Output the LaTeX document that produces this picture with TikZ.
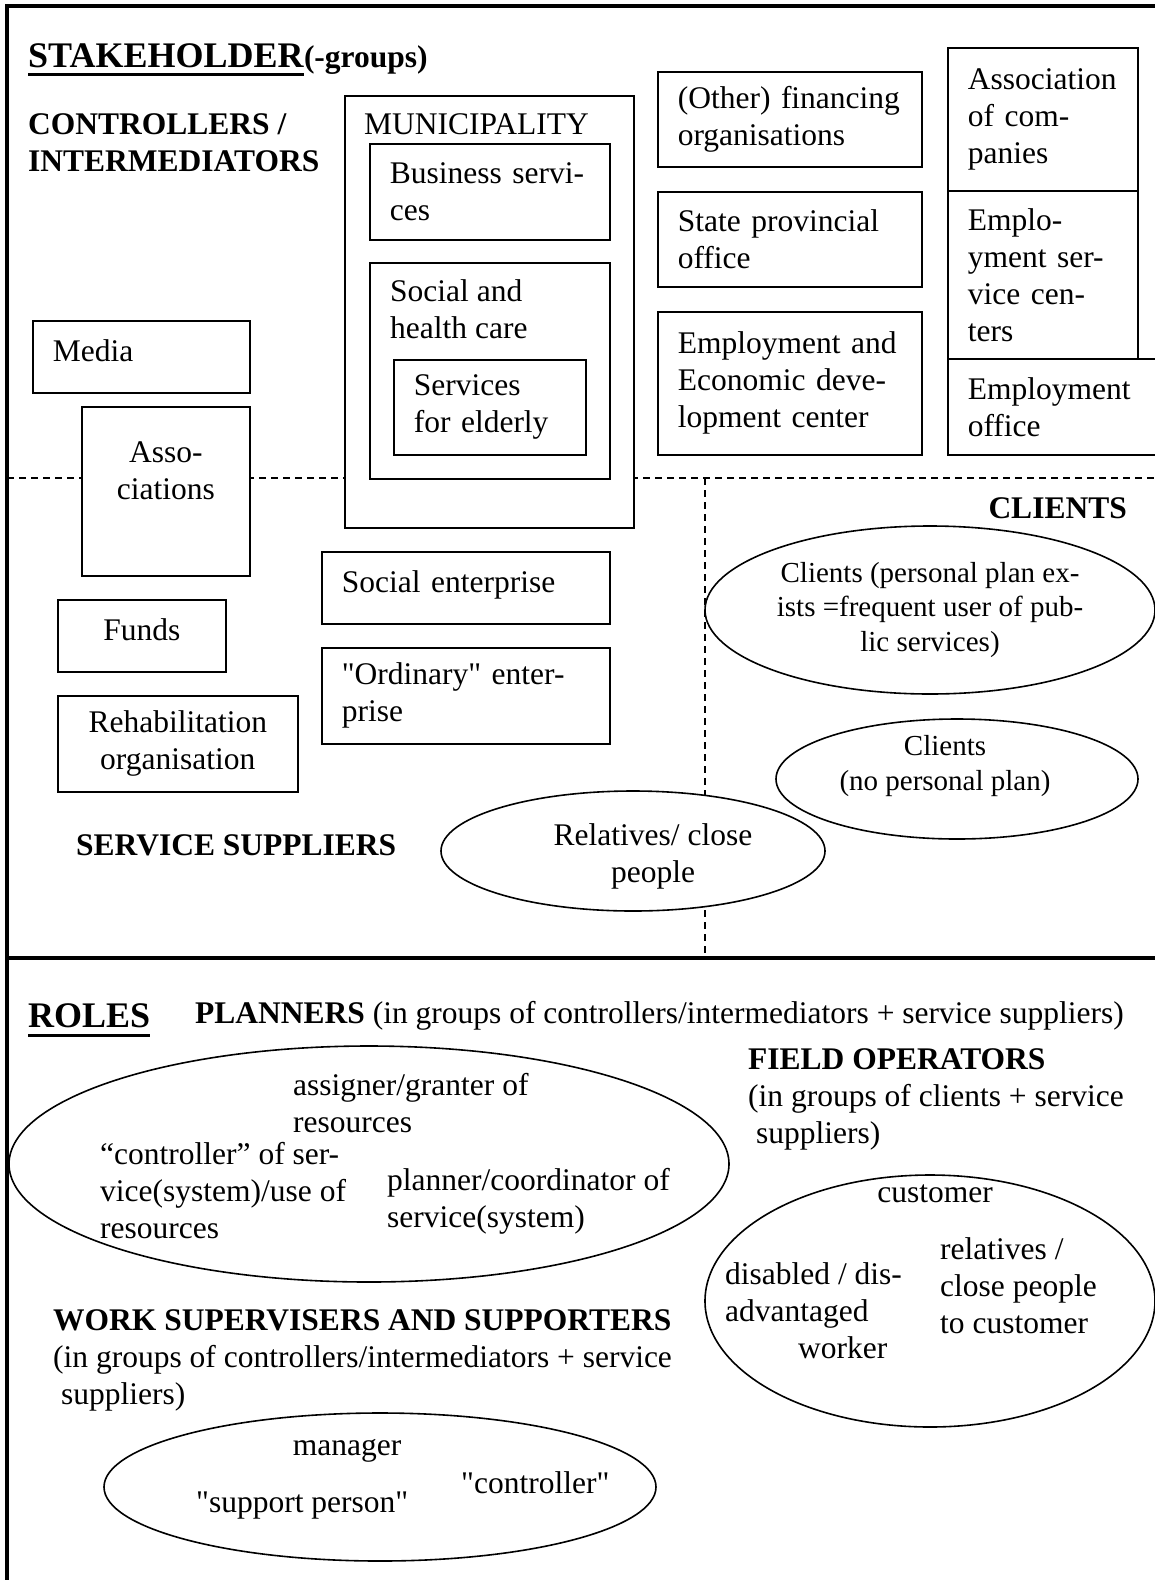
\documentclass[tikz,border=0pt]{standalone}
\usepackage{fontspec}
\setmainfont{Liberation Serif}[Ligatures=TeXOff]
\usetikzlibrary{shapes.geometric, positioning}
\hyphenpenalty=10000

\begin{document}
\begin{tikzpicture}[x=1pt, y=-1pt,
  txt/.style={inner sep=0pt, align=left, font=\fontsize{31.5}{37}\selectfont},
  head/.style={txt, font=\fontsize{31.5}{37}\selectfont\bfseries},
  bighead/.style={txt, font=\fontsize{36}{40}\selectfont\bfseries},
  small/.style={txt, align=center, font=\fontsize{29}{34.5}\selectfont},
  box/.style={draw, fill=white, line width=1.6pt, inner xsep=20pt, inner ysep=0pt,
    anchor=north west, align=left, font=\fontsize{31.5}{37}\selectfont},
  oneline/.style={text depth=12pt},
  ring/.style={draw, fill=white, ellipse, line width=1.6pt, inner sep=0pt},
  divider/.style={line width=1.4pt, dash pattern=on 7pt off 5pt},
  frame/.style={line width=4pt}]
\useasboundingbox (0,0) rectangle (1155,1580);

\draw[divider] (7,478) -- (1160,478);
\draw[divider] (705,478) -- (705,958);

\node[bighead, anchor=base west] (stake) at (28,67) {STAKEHOLDER};
\node[head, anchor=base west] (groups) at (stake.base east) {(-groups)};
\draw[line width=3pt] ([yshift=-7pt]stake.base west) -- ([yshift=-7pt]stake.base east);
\node[head, anchor=base west] (ctrl) at (28,171) {CONTROLLERS /\\INTERMEDIATORS};

\node[box, oneline, text width=177pt, minimum height=72pt] (media) at (32,320) {Media};
\node[box, minimum width=168pt, minimum height=169pt] (assocbox) at (81,406) {};
\node[txt, align=center, below=35pt of assocbox.north] (assoc) {Asso-\\ciations};

\node[box, minimum width=289pt, minimum height=432pt] (muni) at (344,95) {};
\node[txt, below right=18pt and 20pt of muni.north west] (munititle) {MUNICIPALITY};
\node[box, text width=200pt, minimum height=96pt] (busi) at (369,143) {Business~servi-\\ces};
\node[box, minimum width=240pt, minimum height=216pt] (social) at (369,262) {};
\node[txt, below right=17.5pt and 21pt of social.north west] (socialtitle) {Social and\\health care};
\node[box, text width=152pt, minimum height=95pt] (elderly) at (393,359) {Services\\for~elderly};

\node[box, text width=224pt, minimum height=95pt] (otherfin) at (657,71) {(Other)~financing\\organisations};
\node[box, text width=224pt, minimum height=95pt] (state) at (657,191) {State~provincial\\office};
\node[box, text width=224pt, minimum height=143pt] (empecon) at (657,311) {Employment~and\\Economic~deve-\\lopment~center};

\node[box, text width=150pt, minimum height=143pt] (assocomp) at (947,47) {Association\\of~com-\\panies};
\node[box, text width=150pt, minimum height=168pt] (empserv) at (947,190) {Emplo-\\yment~ser-\\vice~cen-\\ters};
\node[box, text width=180pt, minimum height=96pt] (empoff) at (947,358) {Employment\\office};

\node[head, anchor=base east] (clients) at (1127,518) {CLIENTS};
\node[ring, small, minimum width=450pt, minimum height=168pt] (clipl) at (930,610)
  {Clients (personal plan ex-\\ists =frequent user of pub-\\lic services)};
\node[ring, minimum width=362pt, minimum height=120pt] (clino) at (957,779) {};
\node[small, anchor=base] (clinotext) at (945,790) {Clients\\(no personal plan)};

\node[box, oneline, text width=248pt, minimum height=72pt] (socent) at (321,551) {Social enterprise};
\node[box, text width=248pt, minimum height=96pt] (ordent) at (321,647) {"Ordinary"~enter-\\prise};
\node[box, oneline, align=center, text width=128pt, minimum height=72pt] (funds) at (57,599) {Funds};
\node[box, align=center, text width=200pt, minimum height=96pt] (rehab) at (57,695) {Rehabilitation\\organisation};

\node[head, anchor=base west] (suppliers) at (76,855) {SERVICE SUPPLIERS};
\node[ring, minimum width=384pt, minimum height=120pt] (relell) at (633,851) {};
\node[txt, align=center, anchor=base] (reltext) at (653,882) {Relatives/ close\\people};

\node[bighead, anchor=base west] (roles) at (28,1027) {ROLES};
\draw[line width=3pt] ([yshift=-8pt]roles.base west) -- ([yshift=-8pt]roles.base east);
\node[txt, anchor=base west] (planners) at (195,1023)
  {\textbf{PLANNERS} (in groups of controllers/intermediators + service suppliers)};

\node[ring, minimum width=720pt, minimum height=236pt] (planell) at (369,1164) {};
\node[txt, anchor=base west] (assigner) at (293,1132) {assigner/granter of\\resources};
\node[txt, anchor=base west] (ctrlsys) at (100,1238) {“controller” of ser-\\vice(system)/use of\\resources};
\node[txt, anchor=base west] (plancoord) at (387,1227) {planner/coordinator of\\service(system)};

\node[txt, anchor=base west] (fieldop) at (748,1143)
  {\textbf{FIELD OPERATORS}\\(in groups of clients + service\\\hspace*{8pt}suppliers)};
\node[ring, minimum width=450pt, minimum height=252pt] (custell) at (930,1301) {};
\node[txt, anchor=base] (customer) at (935,1202) {customer};
\node[txt, anchor=base west] (disadv) at (725,1358) {disabled / dis-\\advantaged\\\hspace*{73pt}worker};
\node[txt, anchor=base west] (relcust) at (940,1333) {relatives /\\close people\\to customer};

\node[txt, anchor=base west] (worksup) at (53,1404)
  {\textbf{WORK SUPERVISERS AND SUPPORTERS}\\(in groups of controllers/intermediators + service\\\hspace*{8pt}suppliers)};
\node[ring, minimum width=552pt, minimum height=148pt] (supell) at (380,1487) {};
\node[txt, anchor=base] (manager) at (347,1455) {manager};
\node[txt, anchor=base west] (ctrlq) at (461,1493) {"controller"};
\node[txt, anchor=base west] (suppers) at (196,1512) {"support person"};

\draw[frame] (1160,6) -- (7,6) -- (7,1590);
\draw[frame] (7,958) -- (1160,958);
\end{tikzpicture}
\end{document}
